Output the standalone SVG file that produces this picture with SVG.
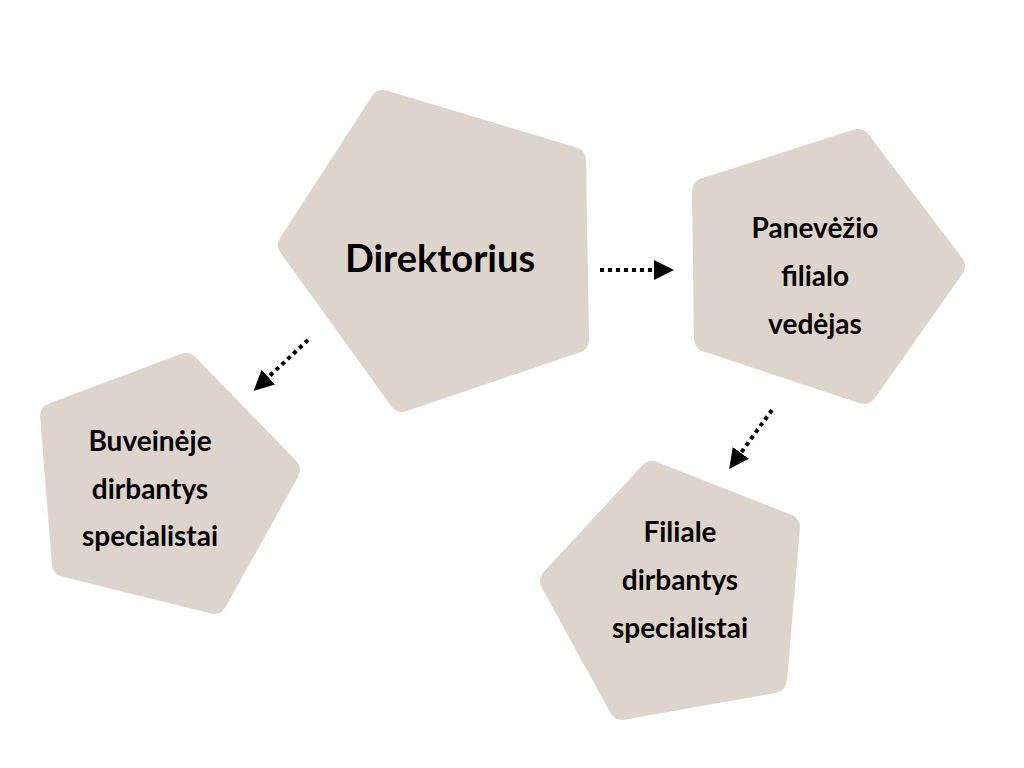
<svg xmlns="http://www.w3.org/2000/svg" width="1024" height="768" viewBox="0 0 1024 768">
<style>
.p{fill:#DDD5CC;stroke:#DDD5CC;stroke-width:26;stroke-linejoin:round}
.t{font-family:Lato,"Liberation Sans",sans-serif;font-weight:bold;fill:#000;text-anchor:middle}
.c{stroke:#000;stroke-width:4;stroke-dasharray:4 4;fill:none}
</style>
<defs><marker id="a" viewBox="0 0 10 10" refX="5" refY="5" markerWidth="5" markerHeight="5" orient="auto" markerUnits="strokeWidth"><path d="M0,0L10,5L0,10Z" fill="#000"/></marker></defs>
<rect width="1024" height="768" fill="#fff"/>
<g id="n1"><polygon class="p" points="383,103 573,160 576,340 402,399 291,245"/><text class="t" x="440" y="272" font-size="38">Direktorius</text></g>
<g id="n2"><polygon class="p" points="858,142 952,266 864,391 707,339 705,191"/><text class="t" x="815" y="238" font-size="28">Panevėžio</text><text class="t" x="815" y="286" font-size="28">filialo</text><text class="t" x="815" y="334" font-size="28">vedėjas</text></g>
<g id="n3"><polygon class="p" points="186,366 287,470 214,601 65,564 53,416"/><text class="t" x="150" y="451" font-size="28">Buveinėje</text><text class="t" x="150" y="499" font-size="28">dirbantys</text><text class="t" x="150" y="546" font-size="28">specialistai</text></g>
<g id="n4"><polygon class="p" points="652,474 787,527 774,680 622,707 553,581"/><text class="t" x="680" y="542" font-size="28">Filiale</text><text class="t" x="680" y="590" font-size="28">dirbantys</text><text class="t" x="680" y="638" font-size="28">specialistai</text></g>
<g id="connectors">
<line class="c" x1="600" y1="270" x2="664" y2="270" marker-end="url(#a)"/>
<line class="c" x1="308" y1="340" x2="261" y2="384" marker-end="url(#a)"/>
<line class="c" x1="772" y1="410" x2="735" y2="461" marker-end="url(#a)"/>
</g>
</svg>
